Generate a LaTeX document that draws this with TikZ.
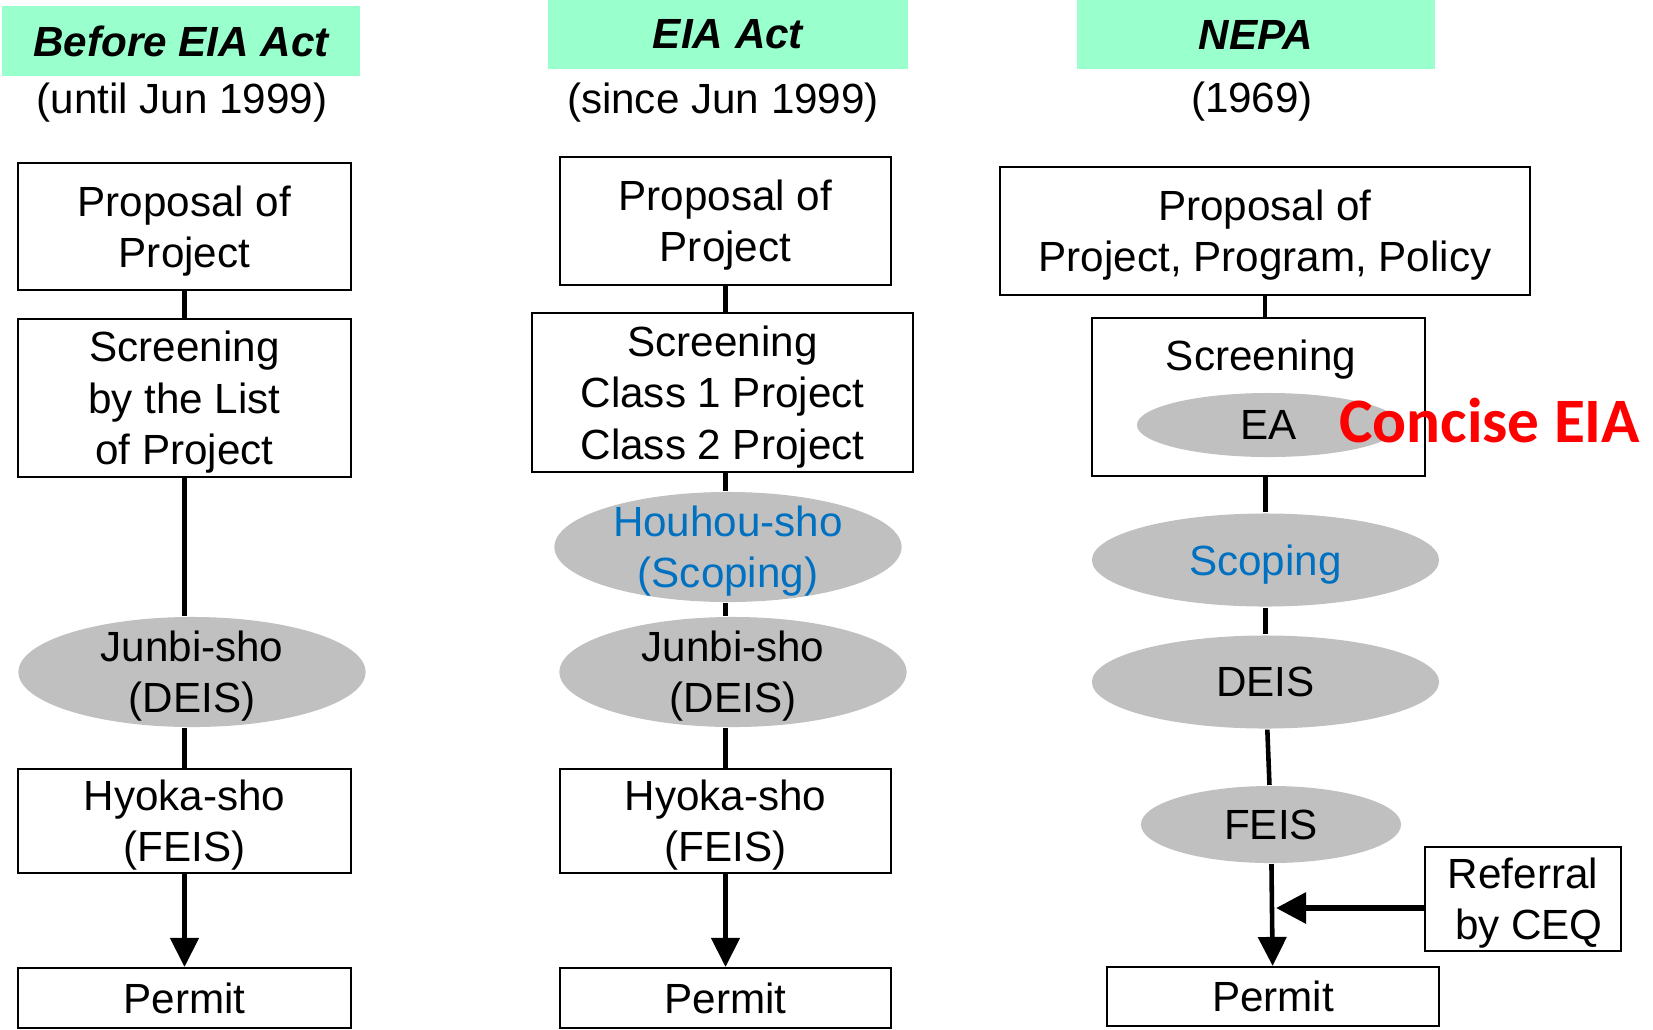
\documentclass[tikz,border=0pt]{standalone}
\usepackage{fontspec}
\setmainfont{Liberation Sans}
\newfontfamily\conciseFont{Carlito}
\usetikzlibrary{
	arrows.meta,
	calc,
	positioning,
	shapes.geometric
}
\definecolor{headgreen}{HTML}{99FFCC}
\definecolor{docgray}{HTML}{C0C0C0}
\definecolor{scopeblue}{HTML}{0070C0}
\definecolor{conciseRed}{HTML}{FF0000}
\tikzset{every path/.append style={line width=0.6pt}}
\tikzset{
	stage/.style={draw,rectangle,align=center,inner sep=0pt,text depth=0pt,minimum width=3.33cm,minimum height=1.27cm},
	doc/.style={ellipse,fill=docgray,align=center,inner xsep=0pt,inner ysep=-0.12cm,text depth=0pt,minimum width=3.47cm,minimum height=1.10cm},
	head/.style={fill=headgreen,inner sep=0pt,minimum width=3.6cm,minimum height=0.69cm,font=\fontsize{12}{14.6}\bfseries\itshape\selectfont},
	link/.style={line width=1.3pt},
	flow/.style={line width=1.3pt,-{Triangle[length=0.29cm,width=0.28cm]}}
}

\begin{document}
\begin{tikzpicture}[x=0.01cm,y=-0.01cm,font=\fontsize{12}{14.6}\selectfont]
	\useasboundingbox (0,0) rectangle (1653,1029);

	% before EIA Act
	\node[head,minimum width=3.58cm] (head1) at (181,41) {Before EIA Act};
	\node[anchor=base] (year1) at (182,113) {(until Jun 1999)};
	\node[stage] (prop1) at (184.5,226.5) {Proposal of\\Project};
	\node[stage,minimum height=1.58cm] (scr1) at (184.5,398) {Screening\\by the List\\of Project};
	\node[doc] (junbi1) at (192,672) {Junbi-sho\\(DEIS)};
	\node[stage,minimum height=1.04cm] (hyoka1) at (184.5,821) {Hyoka-sho\\(FEIS)};
	\node[stage,minimum height=0.6cm] (perm1) at (184.5,998) {Permit};

	\draw[link] (prop1) -- (scr1);
	\draw[link] (scr1.south) -- (scr1.south |- junbi1.north);
	\draw[link] (hyoka1.north |- junbi1.south) -- (hyoka1.north);
	\draw[flow] (hyoka1) -- (perm1);

	% EIA Act
	\node[head] (head2) at (728,34.5) {EIA Act};
	\node[anchor=base] (year2) at (723,113) {(since Jun 1999)};
	\node[stage,minimum width=3.31cm,minimum height=1.28cm] (prop2) at (725.5,221) {Proposal of\\Project};
	\node[stage,minimum width=3.81cm,minimum height=1.59cm] (scr2) at (722.5,392.5) {Screening\\Class 1 Project\\Class 2 Project};
	\node[doc,text=scopeblue] (houhou2) at (728,547) {Houhou-sho\\(Scoping)};
	\node[doc] (junbi2) at (733,672) {Junbi-sho\\(DEIS)};
	\node[stage,minimum width=3.31cm,minimum height=1.04cm] (hyoka2) at (725.5,821) {Hyoka-sho\\(FEIS)};
	\node[stage,minimum width=3.31cm,minimum height=0.6cm] (perm2) at (725.5,998) {Permit};

	\draw[link] (prop2.south) -- (prop2.south |- scr2.north);
	\draw[link] (prop2.south |- scr2.south) -- (prop2.south |- houhou2.north);
	\draw[link] (prop2.south |- houhou2.south) -- (prop2.south |- junbi2.north);
	\draw[link] (hyoka2.north |- junbi2.south) -- (hyoka2.north);
	\draw[flow] (hyoka2) -- (perm2);

	% NEPA
	\node[head,minimum width=3.58cm] (head3) at (1256,34.5) {NEPA};
	\node[anchor=base] (year3) at (1252,112) {(1969)};
	\node[stage,minimum width=5.29cm,minimum height=1.28cm] (prop3) at (1265,231) {Proposal of\\Project, Program, Policy};
	\node[stage,minimum width=3.33cm,minimum height=1.58cm] (scr3) at (1258.5,397) {};
	\node[anchor=base] (scrText3) at (1261,370) {Screening};
	\node[doc,minimum width=2.63cm,minimum height=0.64cm] (ea3) at (1268.5,425) {EA};
	\node[anchor=base west,text=conciseRed,inner sep=0pt,font={\conciseFont\bfseries\fontsize{18}{20}\selectfont}] (concise3) at (1338,442) {Concise EIA};
	\node[doc,text=scopeblue,minimum width=3.47cm,minimum height=0.93cm] (scop3) at (1265.5,560) {Scoping};
	\node[doc,minimum width=3.47cm,minimum height=0.93cm] (deis3) at (1265.5,682) {DEIS};
	\node[doc,minimum width=2.6cm,minimum height=0.77cm] (feis3) at (1271,824.5) {FEIS};
	\node[stage,minimum width=1.96cm,minimum height=1.04cm] (ref3) at (1523,899) {Referral\\\ by CEQ};
	\node[stage,minimum width=3.31cm,minimum height=0.59cm] (perm3) at (1273,996.5) {Permit};

	\draw[link] (prop3.south) -- (prop3.south |- scr3.north);
	\draw[link] (scr3.south -| scop3.north) -- (scop3.north);
	\draw[link] (scop3) -- (deis3);
	\draw[link] (deis3) -- (feis3);
	\draw[flow] (feis3) -- (perm3);
	\draw[line width=1.7pt,-{Triangle[length=0.3cm,width=0.3cm]}] ($(ref3.west)+(0,9)$) -- ($(ref3.west -| perm3.north)+(3,9)$);
\end{tikzpicture}
\end{document}
